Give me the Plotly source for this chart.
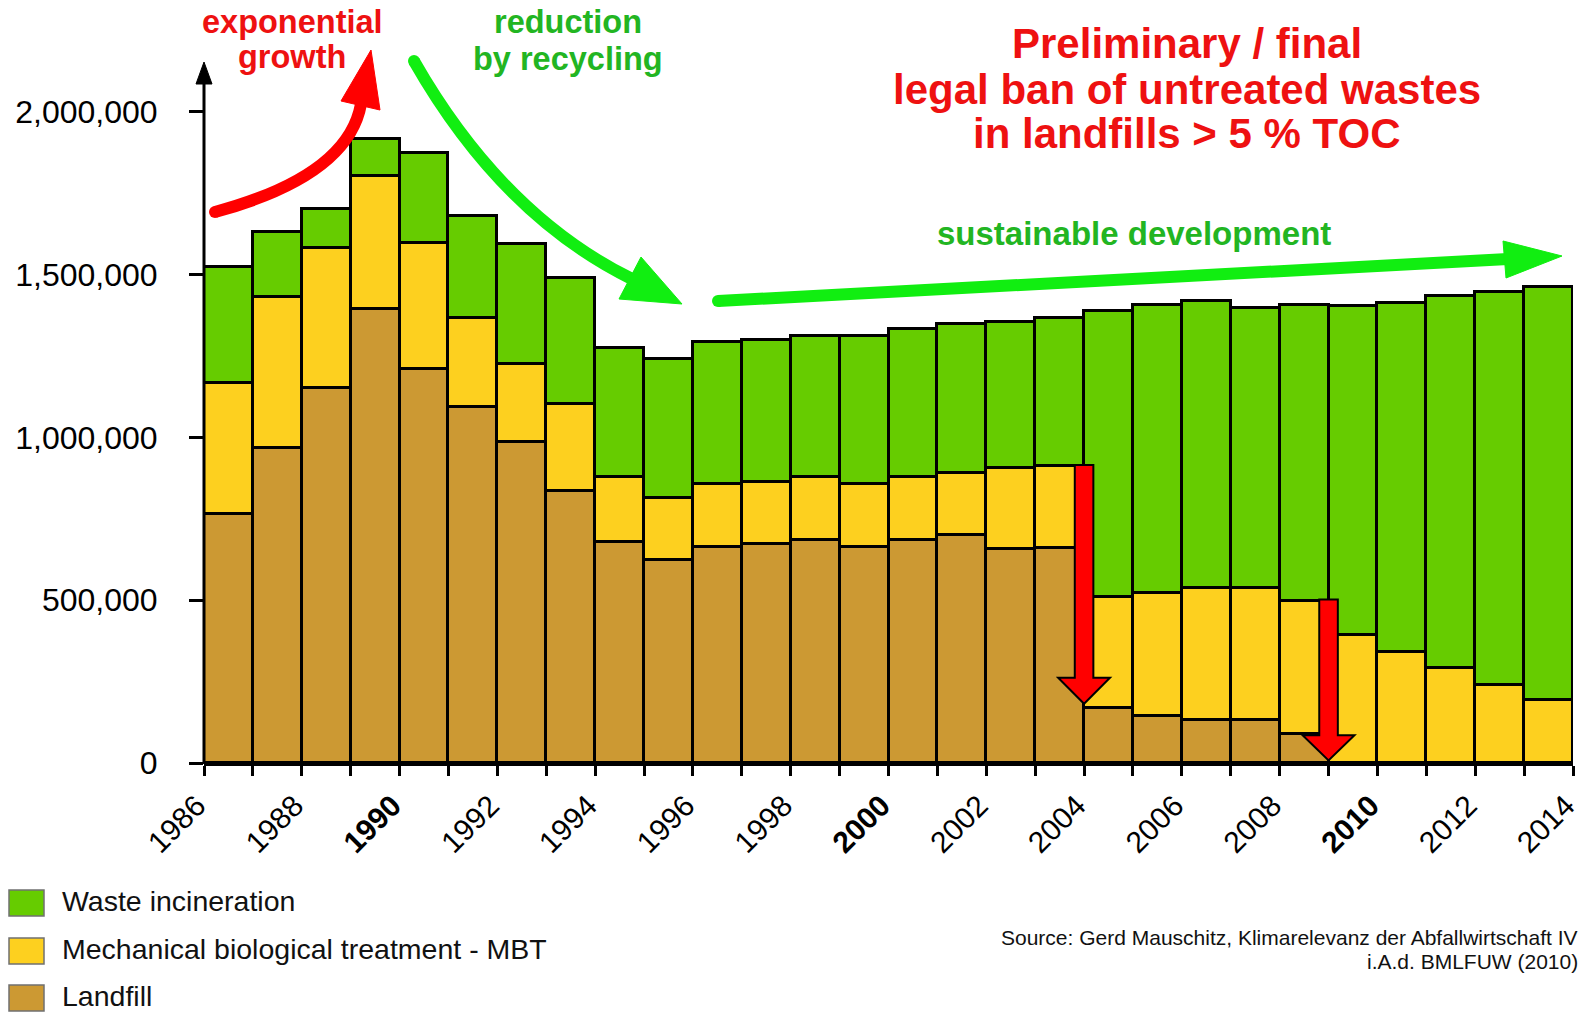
import plotly.graph_objects as go

# ---------------- data (tonnes per year) ----------------
years = list(range(1986, 2014))
landfill = [764000, 967000, 1151000, 1393000, 1209000, 1093000, 987000, 836000,
            679000, 622000, 664000, 671000, 684000, 664000, 684000, 699000,
            657000, 661000, 170000, 145000, 131000, 131000, 88000, 0,
            0, 0, 0, 0]
mbt = [403000, 464000, 432000, 410000, 387000, 274000, 237000, 267000,
       199000, 192000, 193000, 191000, 194000, 194000, 194000, 192000,
       248000, 251000, 339000, 378000, 407000, 407000, 409000, 393000,
       342000, 292000, 241000, 192000]
incineration = [357000, 200000, 117000, 113000, 277000, 313000, 369000, 386000,
                396000, 427000, 436000, 437000, 434000, 453000, 455000, 458000,
                450000, 455000, 880000, 882000, 882000, 860000, 908000, 1010000,
                1071000, 1142000, 1206000, 1270000]
series_names = ["Landfill", "Mechanical biological treatment - MBT", "Waste incineration"]
tick_years = list(range(1986, 2015))
bold_years = [1990, 2000, 2010]
y_ticks = [0, 500000, 1000000, 1500000, 2000000]

# ---------------- styling ----------------
FONT = "Arial, 'Liberation Sans', sans-serif"
C_GREEN = "#66CC00"
C_YELLOW = "#FDD01F"
C_BROWN = "#CC9933"
RED_TXT = "#EE1111"
GREEN_TXT = "#22B522"
ARROW_GREEN = "#11EE11"
ARROW_RED = "#FF0000"

W_FIG, H_FIG = 1582, 1013
PAGE_X0, PAGE_X1 = 204, 1573      # plot area in pixels
PAGE_Y0, PAGE_Y1 = 0, 763
L = PAGE_X0
R = W_FIG - PAGE_X1
T = PAGE_Y0
PW = PAGE_X1 - PAGE_X0
PH = PAGE_Y1 - PAGE_Y0
B = H_FIG - T - PH
PX_PER_UNIT = (763 - 111.7) / 2000000
Y_TOP = PH / PX_PER_UNIT


def px(xp):
    return (xp - PAGE_X0) / PW


def py(yp):
    return (PAGE_Y1 - yp) / PH


xc = [y + 0.5 for y in years]
fig = go.Figure()
for name, vals, col in [(series_names[0], landfill, C_BROWN),
                        (series_names[1], mbt, C_YELLOW),
                        (series_names[2], incineration, C_GREEN)]:
    fig.add_trace(go.Bar(x=xc, y=vals, width=1, name=name,
                         marker=dict(color=col, line=dict(color="black", width=3)),
                         showlegend=False))

ticktext = []
for y in tick_years:
    if y % 2:
        ticktext.append("")
    elif y in bold_years:
        ticktext.append(f"<b>{y}</b>")
    else:
        ticktext.append(str(y))

fig.update_layout(
    width=W_FIG, height=H_FIG,
    margin=dict(l=L, r=R, t=T, b=B, pad=0, autoexpand=False),
    paper_bgcolor="white", plot_bgcolor="white",
    barmode="stack", bargap=0,
    font=dict(family=FONT, color="black"),
    xaxis=dict(range=[1986, 2014], tickvals=tick_years, ticktext=ticktext,
               tickangle=-45, ticks="outside", ticklen=10, tickwidth=3,
               tickcolor="black", showline=True, linewidth=3, linecolor="black",
               showgrid=False, zeroline=False, ticklabeloverflow="allow",
               ticklabelshift=-7,
               automargin=False, tickfont=dict(size=30, family=FONT)),
    yaxis=dict(range=[0, Y_TOP], tickvals=y_ticks,
               ticktext=[f"{v:,}" for v in y_ticks],
               ticks="outside", ticklen=14, tickwidth=3, tickcolor="black",
               showline=False, showgrid=False, zeroline=False, automargin=False,
               ticklabelstandoff=25, tickfont=dict(size=32, family=FONT)),
)

shapes = []
# y axis line with arrow head
shapes.append(dict(type="line", xref="paper", yref="paper",
                   x0=px(204), x1=px(204), y0=py(764), y1=py(80),
                   line=dict(color="black", width=3)))
shapes.append(dict(type="path", xref="paper", yref="paper",
                   path=f"M{px(196)},{py(84)} L{px(204)},{py(62)} L{px(212)},{py(84)} Z",
                   fillcolor="black", line=dict(color="black", width=1)))


def qpath(p0, c, p2):
    return (f"M{px(p0[0])},{py(p0[1])} Q{px(c[0])},{py(c[1])} {px(p2[0])},{py(p2[1])}")


def tri(a, b, c):
    return (f"M{px(a[0])},{py(a[1])} L{px(b[0])},{py(b[1])} L{px(c[0])},{py(c[1])} Z")


# red "exponential growth" curved arrow
shapes.append(dict(type="path", xref="paper", yref="paper",
                   path=qpath((215, 212), (348, 176), (361, 104)),
                   line=dict(color=ARROW_RED, width=12)))
shapes.append(dict(type="circle", xref="paper", yref="paper",
                   x0=px(209), x1=px(221), y0=py(218), y1=py(206),
                   fillcolor=ARROW_RED, line=dict(width=0)))
shapes.append(dict(type="path", xref="paper", yref="paper",
                   path=tri((341, 101), (371, 50), (380, 110)),
                   fillcolor=ARROW_RED, line=dict(color=ARROW_RED, width=1)))

# green "reduction" curved arrow
shapes.append(dict(type="path", xref="paper", yref="paper",
                   path=qpath((414, 61), (502, 215), (632, 279)),
                   line=dict(color=ARROW_GREEN, width=12)))
shapes.append(dict(type="circle", xref="paper", yref="paper",
                   x0=px(408), x1=px(420), y0=py(67), y1=py(55),
                   fillcolor=ARROW_GREEN, line=dict(width=0)))
shapes.append(dict(type="path", xref="paper", yref="paper",
                   path=tri((619, 299), (682, 304), (641, 257)),
                   fillcolor=ARROW_GREEN, line=dict(color=ARROW_GREEN, width=1)))

# green "sustainable development" straight arrow
shapes.append(dict(type="line", xref="paper", yref="paper",
                   x0=px(718), y0=py(301), x1=px(1508), y1=py(259),
                   line=dict(color=ARROW_GREEN, width=12)))
shapes.append(dict(type="circle", xref="paper", yref="paper",
                   x0=px(712), x1=px(724), y0=py(307), y1=py(295),
                   fillcolor=ARROW_GREEN, line=dict(width=0)))
shapes.append(dict(type="path", xref="paper", yref="paper",
                   path=tri((1503, 241), (1562, 256), (1506, 278)),
                   fillcolor=ARROW_GREEN, line=dict(color=ARROW_GREEN, width=1)))


# red downward arrows (landfill ban 2004 / 2009), data coordinates
def down_arrow(xc_, ytop, ybase, ytip, sw=0.19, hw=0.53):
    return (f"M{xc_ - sw},{ytop} L{xc_ + sw},{ytop} L{xc_ + sw},{ybase} "
            f"L{xc_ + hw},{ybase} L{xc_},{ytip} L{xc_ - hw},{ybase} "
            f"L{xc_ - sw},{ybase} Z")


shapes.append(dict(type="path", xref="x", yref="y",
                   path=down_arrow(2004, 915000, 262000, 182000),
                   fillcolor=ARROW_RED, line=dict(color="black", width=2)))
shapes.append(dict(type="path", xref="x", yref="y",
                   path=down_arrow(2009, 502000, 85000, 8000),
                   fillcolor=ARROW_RED, line=dict(color="black", width=2)))

# manual legend swatches
legend_items = [(series_names[2], C_GREEN, 903),
                (series_names[1], C_YELLOW, 951),
                (series_names[0], C_BROWN, 998)]
annotations = []
for name, col, yc in legend_items:
    shapes.append(dict(type="rect", xref="paper", yref="paper",
                       x0=px(9), x1=px(44), y0=py(yc + 13), y1=py(yc - 13),
                       fillcolor=col, line=dict(color="#707070", width=1.5)))
    annotations.append(dict(xref="paper", yref="paper", x=px(60), y=py(yc - 2),
                            xanchor="left", yanchor="middle", showarrow=False,
                            text=name, font=dict(size=28.5, family=FONT, color="#111111")))


def label(text, xc_, yc_, size, color, bold=True, anchor="center", pad=1):
    annotations.append(dict(xref="paper", yref="paper", x=px(xc_), y=py(yc_),
                            xanchor=anchor, yanchor="middle", showarrow=False,
                            borderpad=pad,
                            text=f"<b>{text}</b>" if bold else text,
                            font=dict(size=size, family=FONT, color=color)))


label("exponential", 292, 22, 32.5, RED_TXT, pad=0)
label("growth", 292, 57, 32.5, RED_TXT)
label("reduction", 568, 22, 32.5, GREEN_TXT, pad=0)
label("by recycling", 568, 59, 32.5, GREEN_TXT)
label("Preliminary / final", 1187, 43, 42, RED_TXT)
label("legal ban of untreated wastes", 1187, 89, 42, RED_TXT)
label("in landfills &gt; 5 % TOC", 1187, 134, 42, RED_TXT)
label("sustainable development", 1134, 233, 33, GREEN_TXT)
label("Source: Gerd Mauschitz, Klimarelevanz der Abfallwirtschaft IV", 1580, 937, 21,
      "#111111", bold=False, anchor="right")
label("i.A.d. BMLFUW (2010)", 1580, 961, 21, "#111111", bold=False, anchor="right")

fig.update_layout(shapes=shapes, annotations=annotations)
fig.write_html("out.html", config={"displayModeBar": False},
               post_script="document.body.style.margin='0';"
                           "document.body.style.overflow='hidden';")
